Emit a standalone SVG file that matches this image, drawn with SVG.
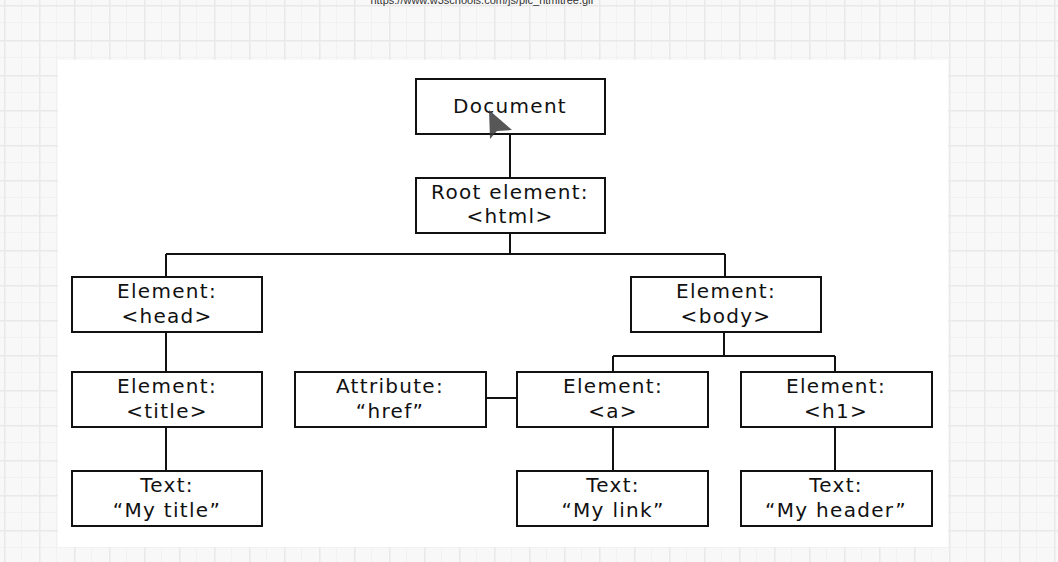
<svg xmlns="http://www.w3.org/2000/svg" width="1058" height="562" viewBox="0 0 1058 562">
<style>
.box{fill:#fff;stroke:#111;stroke-width:2}
.lbl{font-family:"DejaVu Sans",Verdana,sans-serif;font-size:20px;letter-spacing:1.3px;fill:#111;text-anchor:middle}
.con{fill:none;stroke:#111;stroke-width:2}
.url{font-family:"Liberation Sans",Arial,sans-serif;font-size:11px;fill:#333;text-anchor:middle}
</style>
<defs>
<pattern id="grid" patternUnits="userSpaceOnUse" x="4" y="5" width="35" height="35">
<rect width="35" height="35" fill="#f8f8f8"/>
<path d="M17.5 0V35M0 17.5H35" stroke="#f1f1f1" stroke-width="1"/>
<path d="M0.75 0V35M0 0.75H35" stroke="#e9e9e9" stroke-width="1.5"/>
</pattern>
</defs>
<rect width="1058" height="562" fill="url(#grid)"/>
<text class="url" x="482" y="4">https://www.w3schools.com/js/pic_htmltree.gif</text>
<rect x="58" y="60" width="890" height="487" fill="#fff"/>
<g id="connectors">
<path class="con" d="M510 134V178"/>
<path class="con" d="M510 233V254M166 254H725M166 254V277M725 254V277"/>
<path class="con" d="M166 332V372M166 427V471"/>
<path class="con" d="M724 332V356M613 356H835M613 356V372M835 356V372"/>
<path class="con" d="M486 398H517"/>
<path class="con" d="M613 427V471M835 427V471"/>
</g>
<g id="document"><rect class="box" x="416" y="79" width="189" height="55"/><text class="lbl" x="510" y="113">Document</text></g>
<g id="root"><rect class="box" x="416" y="178" width="189" height="55"/><text class="lbl" x="510" y="199">Root element:</text><text class="lbl" x="510" y="223">&lt;html&gt;</text></g>
<g id="head"><rect class="box" x="72" y="277" width="190" height="55"/><text class="lbl" x="167" y="298">Element:</text><text class="lbl" x="167" y="323">&lt;head&gt;</text></g>
<g id="body"><rect class="box" x="631" y="277" width="190" height="55"/><text class="lbl" x="726" y="298">Element:</text><text class="lbl" x="726" y="323">&lt;body&gt;</text></g>
<g id="title"><rect class="box" x="72" y="372" width="190" height="55"/><text class="lbl" x="167" y="393">Element:</text><text class="lbl" x="167" y="418">&lt;title&gt;</text></g>
<g id="attribute"><rect class="box" x="295" y="372" width="191" height="55"/><text class="lbl" x="390" y="393">Attribute:</text><text class="lbl" x="390" y="418">“href”</text></g>
<g id="a"><rect class="box" x="517" y="372" width="191" height="55"/><text class="lbl" x="613" y="393">Element:</text><text class="lbl" x="613" y="418">&lt;a&gt;</text></g>
<g id="h1"><rect class="box" x="741" y="372" width="191" height="55"/><text class="lbl" x="836" y="393">Element:</text><text class="lbl" x="836" y="418">&lt;h1&gt;</text></g>
<g id="text-title"><rect class="box" x="72" y="471" width="190" height="55"/><text class="lbl" x="167" y="492">Text:</text><text class="lbl" x="167" y="517">“My title”</text></g>
<g id="text-link"><rect class="box" x="517" y="471" width="191" height="55"/><text class="lbl" x="613" y="492">Text:</text><text class="lbl" x="613" y="517">“My link”</text></g>
<g id="text-header"><rect class="box" x="741" y="471" width="191" height="55"/><text class="lbl" x="836" y="492">Text:</text><text class="lbl" x="836" y="517">“My header”</text></g>
<path d="M489 110L490 139L497 131L512 130Z" fill="#3a3a3a" opacity="0.85"/>
</svg>
